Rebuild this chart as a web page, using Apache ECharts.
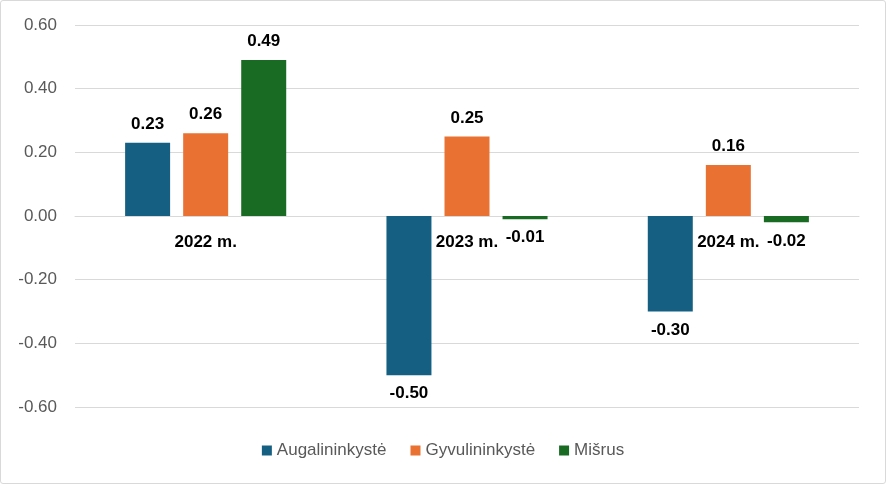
<!DOCTYPE html>
<html><head><meta charset="utf-8">
<script src="https://cdn.jsdelivr.net/npm/echarts@6/dist/echarts.min.js"></script>
<style>html,body{margin:0;padding:0;background:#fff}#c{width:886px;height:484px;box-sizing:border-box;border:1px solid #d9d9d9;border-radius:3px}</style>
</head><body><div id="c"></div>
<script>
const categories = ['2022 m.', '2023 m.', '2024 m.'];
const seriesNames = ['Augalininkystė', 'Gyvulininkystė', 'Mišrus'];
const augalininkyste = [0.23, -0.50, -0.30];
const gyvulininkyste = [0.26, 0.25, 0.16];
const misrus = [0.49, -0.01, -0.02];
const colors = ['#156082', '#E97132', '#196B24'];

const chart = echarts.init(document.getElementById('c'), null, {renderer: 'canvas'});
const font = '"Liberation Sans", Arial, sans-serif';
function mk(name, data, color) {
  return {
    name: name, type: 'bar', data: data.map(v => ({
      value: v,
      label: {position: v >= 0 ? 'top' : 'bottom'}
    })),
    barWidth: 45, barGap: '29%',
    itemStyle: {color: color},
    label: {show: true, distance: 10, fontFamily: font, fontSize: 17, fontWeight: 'bold', color: '#000',
      formatter: p => p.value.toFixed(2)}
  };
}
chart.setOption({
  animation: false,
  grid: {left: 74, right: 26, top: 24, bottom: 76},
  legend: {
    data: seriesNames, bottom: 19, left: 'center', itemWidth: 10, itemHeight: 10, itemGap: 24,
    icon: 'rect', textStyle: {fontFamily: font, fontSize: 17, color: '#595959'}
  },
  xAxis: {
    type: 'category', data: categories,
    axisLine: {onZero: true, lineStyle: {color: '#d9d9d9'}},
    axisTick: {show: false},
    axisLabel: {show: false}
  },
  yAxis: {
    type: 'value', min: -0.6, max: 0.6, interval: 0.2,
    axisLine: {show: false}, axisTick: {show: false},
    splitLine: {lineStyle: {color: '#d9d9d9'}},
    axisLabel: {fontFamily: font, fontSize: 17, color: '#595959', margin: 18, formatter: v => v.toFixed(2)}
  },
  series: [
    mk(seriesNames[0], augalininkyste, colors[0]),
    mk(seriesNames[1], gyvulininkyste, colors[1]),
    mk(seriesNames[2], misrus, colors[2]),
    {
      type: 'scatter', name: 'catLabels', symbolSize: 1, silent: true,
      itemStyle: {opacity: 1, color: 'rgba(0,0,0,0)'},
      data: categories.map(c => ({name: c, value: [c, 0]})),
      label: {show: true, position: 'bottom', distance: 17, opacity: 1,
        formatter: '{b|{b}}',
        rich: {b: {fontFamily: font, fontSize: 17, fontWeight: 'bold', color: '#000'}}}
    }
  ]
});
</script></body></html>
